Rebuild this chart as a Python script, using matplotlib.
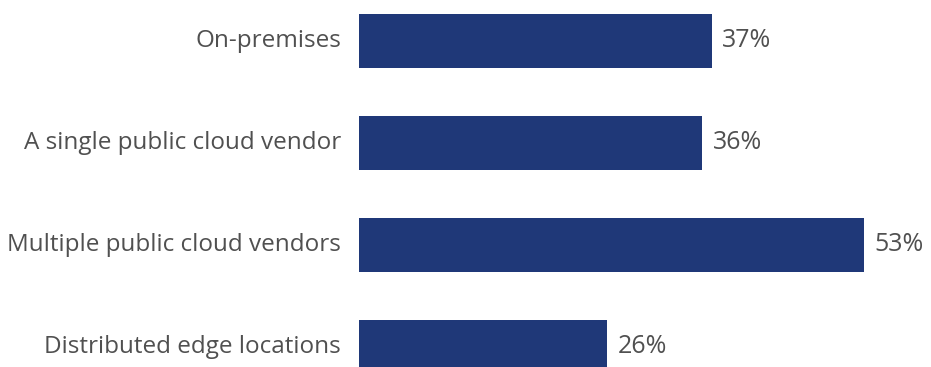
import matplotlib.pyplot as plt

# Survey categories (top to bottom) and share of respondents
categories = ['On-premises', 'A single public cloud vendor',
              'Multiple public cloud vendors', 'Distributed edge locations']
shares = [37, 36, 53, 26]
value_labels = ['37%', '36%', '53%', '26%']

plt.rcParams['font.family'] = ['Open Sans', 'DejaVu Sans']

fig = plt.figure(figsize=(9.31, 3.67), dpi=100)
ax = fig.add_axes([359 / 931, 0, 1 - 359 / 931, 1])

ypos = list(range(len(categories)))
ax.barh(ypos, shares, height=0.53, color='#1f3878')

for y, v, lab in zip(ypos, shares, value_labels):
    ax.text(v + 1.1, y, lab, va='center', ha='left',
            fontsize=18, color='#505050')

# Category labels to the left of the bars
for y, name in zip(ypos, categories):
    ax.text(-1.9, y, name, va='center', ha='right',
            fontsize=17.5, color='#505050')

ax.set_xlim(0, 60)
ax.set_ylim(3.196, -0.40)
ax.axis('off')

fig.savefig('out.png', dpi=100)
